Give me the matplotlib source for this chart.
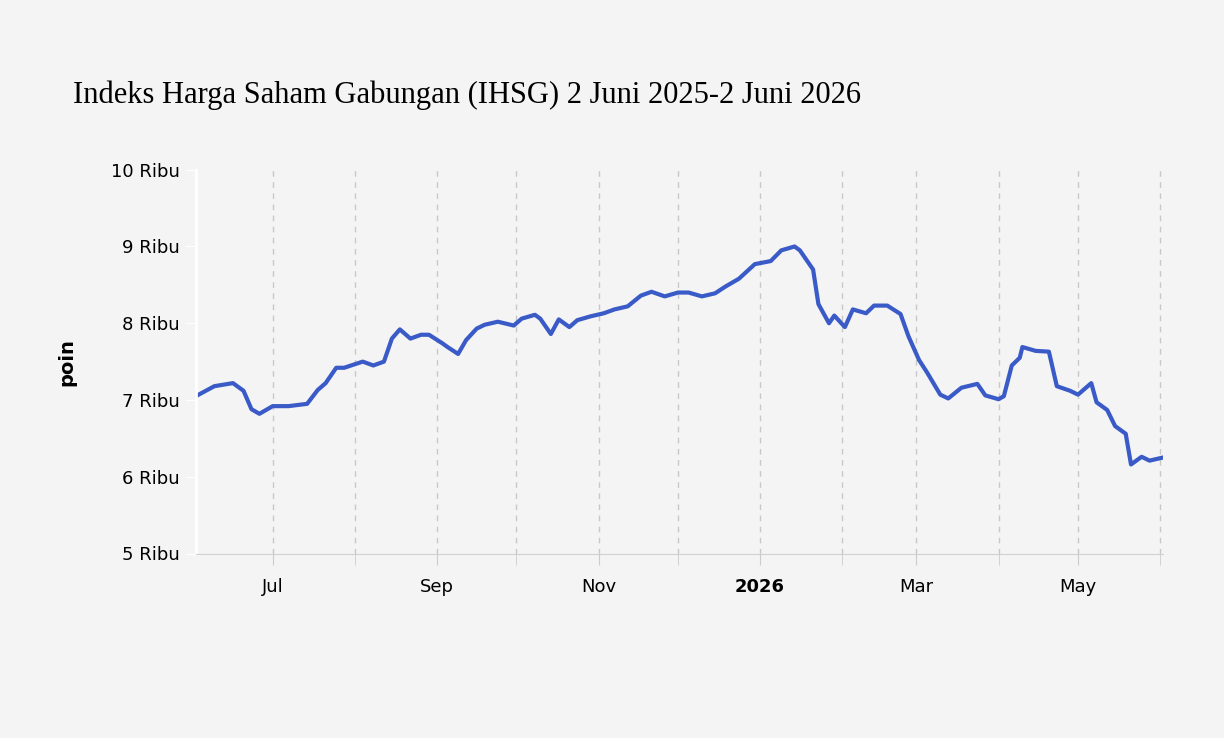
import matplotlib
matplotlib.use("Agg")
import matplotlib.pyplot as plt
import matplotlib.dates as mdates
import pandas as pd

dates = ["2025-06-02","2025-06-09","2025-06-16","2025-06-20","2025-06-23","2025-06-26","2025-07-01","2025-07-07",
"2025-07-14","2025-07-18","2025-07-21","2025-07-25","2025-07-28","2025-08-04","2025-08-08","2025-08-12","2025-08-15",
"2025-08-18","2025-08-22","2025-08-26","2025-08-29","2025-09-03","2025-09-05","2025-09-09","2025-09-12","2025-09-16",
"2025-09-19","2025-09-24","2025-09-30","2025-10-03","2025-10-08","2025-10-10","2025-10-14","2025-10-17","2025-10-21",
"2025-10-24","2025-10-29","2025-11-03","2025-11-07","2025-11-12","2025-11-17","2025-11-21","2025-11-26","2025-12-01",
"2025-12-05","2025-12-10","2025-12-15","2025-12-19","2025-12-24","2025-12-30","2026-01-05","2026-01-09","2026-01-14",
"2026-01-16","2026-01-21","2026-01-23","2026-01-27","2026-01-29","2026-02-02","2026-02-05","2026-02-10","2026-02-13",
"2026-02-18","2026-02-23","2026-02-26","2026-03-02","2026-03-05","2026-03-10","2026-03-13","2026-03-18","2026-03-24",
"2026-03-27","2026-04-01","2026-04-03","2026-04-06","2026-04-09","2026-04-10","2026-04-15","2026-04-20","2026-04-23",
"2026-04-28","2026-05-01","2026-05-06","2026-05-08","2026-05-12","2026-05-15","2026-05-19","2026-05-21","2026-05-25",
"2026-05-28","2026-06-02"]
values = [7.05,7.18,7.22,7.12,6.88,6.82,6.92,6.92,
6.95,7.13,7.22,7.42,7.42,7.5,7.45,7.5,7.8,
7.92,7.8,7.85,7.85,7.74,7.69,7.6,7.78,7.93,
7.98,8.02,7.97,8.06,8.11,8.06,7.86,8.05,7.95,
8.04,8.09,8.13,8.18,8.22,8.36,8.41,8.35,8.4,
8.4,8.35,8.39,8.48,8.58,8.77,8.81,8.95,9.0,
8.95,8.7,8.25,8.0,8.1,7.95,8.18,8.13,8.23,
8.23,8.12,7.83,7.52,7.36,7.07,7.02,7.16,7.21,
7.06,7.01,7.05,7.45,7.55,7.69,7.64,7.63,7.18,
7.12,7.07,7.22,6.97,6.87,6.66,6.56,6.16,6.26,
6.21,6.25]

s = pd.Series([v*1000 for v in values], index=pd.to_datetime(dates))

fig = plt.figure(figsize=(12.24, 7.38), dpi=100)
fig.patch.set_facecolor("#f4f4f4")
ax = fig.add_axes([0.16, 0.25, 0.79, 0.52])
ax.set_facecolor("#f4f4f4")
ax.plot(s.index, s.values, color="#3a5bc7", lw=3)
ax.set_ylim(5000, 10000)
ax.set_xlim(pd.Timestamp("2025-06-02"), pd.Timestamp("2026-06-02"))
ax.set_yticks([5000,6000,7000,8000,9000,10000])
ax.set_yticklabels([f"{i} Ribu" for i in range(5,11)], fontsize=13)
ticks = pd.to_datetime(["2025-07-01","2025-09-01","2025-11-01","2026-01-01","2026-03-01","2026-05-01"])
ax.set_xticks(ticks)
ax.set_xticklabels(["Jul","Sep","Nov","2026","Mar","May"], fontsize=13)
ax.get_xticklabels()[3].set_fontweight("bold")
ax.xaxis.set_minor_locator(mdates.MonthLocator())
ax.grid(True, which="both", axis="x", ls=(0,(4,4)), color="#c8c8c8", lw=1)
ax.tick_params(axis="x", which="both", length=8, color="#cccccc", pad=10)
ax.tick_params(axis="y", length=8, color="#ffffff")
for sp in ["top","right"]:
    ax.spines[sp].set_visible(False)
ax.spines["left"].set_color("#ffffff"); ax.spines["left"].set_linewidth(2)
ax.spines["bottom"].set_color("#d0d0d0")
ax.set_ylabel("poin", fontsize=14, fontweight="bold", labelpad=25)
fig.text(0.06, 0.86, "Indeks Harga Saham Gabungan (IHSG) 2 Juni 2025-2 Juni 2026",
         fontsize=22, family="Liberation Serif")
fig.savefig("out.png", facecolor=fig.get_facecolor())
